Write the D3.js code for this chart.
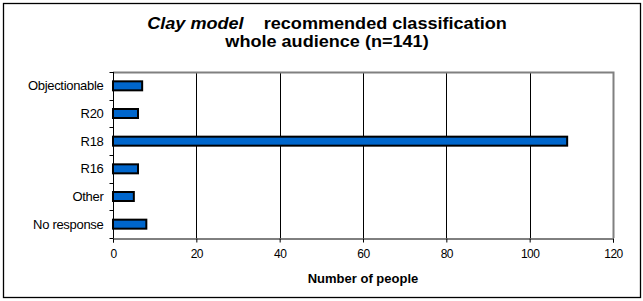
<!DOCTYPE html>
<html>
<head>
<meta charset="utf-8">
<script src="https://d3js.org/d3.v7.min.js"></script>
<style>
  body { margin: 0; background: #fff; }
  text { font-family: "Liberation Sans", Arial, sans-serif; fill: #000; }
</style>
</head>
<body>
<div id="chart"></div>
<script>
// categories top to bottom
var categories = ["Objectionable", "R20", "R18", "R16", "Other", "No response"];
var counts = [7, 6, 109, 6, 5, 8];
var xTicks = [0, 20, 40, 60, 80, 100, 120];

var W = 643, H = 301;
var pLeft = 113, pRight = 613, pTop = 72, pBottom = 238;

var svg = d3.select("#chart").append("svg").attr("width", W).attr("height", H);

// outer frame
svg.append("rect").attr("x", 3.5).attr("y", 3.5).attr("width", 637).attr("height", 294)
  .attr("fill", "#fff").attr("stroke", "#000").attr("stroke-width", 1.3);

var x = d3.scaleLinear().domain([0, 120]).range([pLeft, pRight]);
var y = d3.scaleBand().domain(categories).range([pTop, pBottom]);

// gridlines
svg.selectAll("line.grid").data(xTicks.slice(1, -1)).enter().append("line")
  .attr("x1", function(d) { return Math.round(x(d)) + 0.5; })
  .attr("x2", function(d) { return Math.round(x(d)) + 0.5; })
  .attr("y1", pTop).attr("y2", pBottom)
  .attr("stroke", "#000");

// plot border top & right (grey)
svg.append("path")
  .attr("d", "M" + pLeft + "," + (pTop + 0.5) + "H" + (pRight + 0.5) + "V" + pBottom)
  .attr("fill", "none").attr("stroke", "#808080").attr("stroke-width", 2);

// bars
var barH = 9;
svg.selectAll("rect.bar").data(categories).enter().append("rect")
  .attr("x", x(0))
  .attr("y", function(d) { return y(d) + y.bandwidth() / 2 - barH / 2; })
  .attr("width", function(d, i) { return x(counts[i]) - x(0); })
  .attr("height", barH)
  .attr("fill", "#0066CC").attr("stroke", "#000").attr("stroke-width", 2);

// x axis
var xAxis = d3.axisBottom(x).tickValues(xTicks).tickSize(4).tickPadding(7);
var gx = svg.append("g").attr("transform", "translate(0," + (pBottom + 0.5) + ")").call(xAxis);
gx.select(".domain").attr("stroke", "#000");
gx.selectAll("text").style("font-size", "12px").style("letter-spacing", "-0.5px").attr("fill", "#222");

// y axis, ticks at band edges
var gy = svg.append("g").attr("transform", "translate(" + (pLeft + 0.5) + ",0)");
gy.append("line").attr("y1", pTop).attr("y2", pBottom).attr("stroke", "#000");
var edges = categories.map(function(d) { return y(d); }).concat([pBottom]);
gy.selectAll("line.tk").data(edges).enter().append("line")
  .attr("x1", -4).attr("x2", 0)
  .attr("y1", function(d) { return Math.round(d) + 0.5; })
  .attr("y2", function(d) { return Math.round(d) + 0.5; })
  .attr("stroke", "#000");
gy.selectAll("text").data(categories).enter().append("text")
  .attr("x", -10)
  .attr("y", function(d) { return y(d) + y.bandwidth() / 2; })
  .attr("dy", "0.35em")
  .attr("text-anchor", "end")
  .style("font-size", "13px")
  .style("letter-spacing", "-0.3px")
  .attr("fill", "#222")
  .text(function(d) { return d; });

// axis title
svg.append("text").attr("x", (pLeft + pRight) / 2).attr("y", 283)
  .attr("text-anchor", "middle").style("font-size", "13px").style("font-weight", "bold")
  .text("Number of people");

// chart title, a bit stretched sideways like the original
var t1 = svg.append("text").attr("transform", "translate(327,28.5) scale(1.13,1)")
  .attr("text-anchor", "middle")
  .style("font-size", "16px").style("font-weight", "bold");
t1.append("tspan").style("font-style", "italic").text("Clay model");
t1.append("tspan").text("\u00a0\u00a0\u00a0 recommended classification");
svg.append("text").attr("transform", "translate(327,47) scale(1.13,1)")
  .attr("text-anchor", "middle")
  .style("font-size", "16px").style("font-weight", "bold")
  .text("whole audience (n=141)");
</script>
</body>
</html>
